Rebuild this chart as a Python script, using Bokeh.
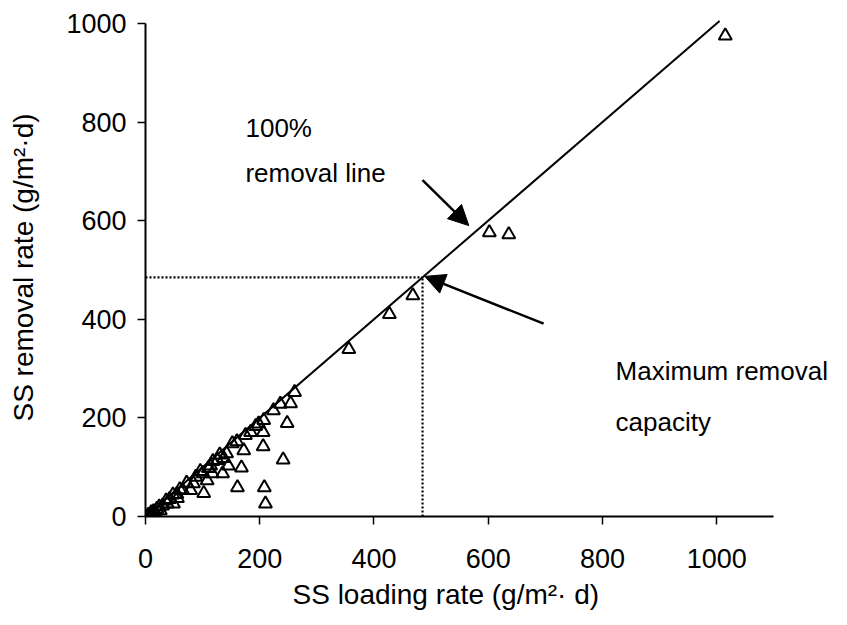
from bokeh.plotting import figure
from bokeh.models import Range1d, Arrow, NormalHead, Label, ColumnDataSource, Title
from bokeh.embed import file_html
from bokeh.resources import INLINE

# SS loading rate vs SS removal rate, g/m2.d
loading = [1015, 602, 636, 468, 427, 356,
           261, 254, 248, 241, 224, 207, 206, 206, 208, 210,
           184, 172, 168, 161, 152, 145, 137, 135, 126, 114,
           117, 100, 108, 102, 84, 79, 65, 56, 49, 38, 26, 18, 9,
           236, 193, 160, 130, 118, 96, 88, 72, 60, 48, 36, 24, 14, 5,
           10, 20, 30, 42, 55, 198, 175, 142, 110]
removal = [975, 576, 572, 448, 410, 339,
           252, 229, 189, 115, 215, 195, 171, 142, 59, 26,
           171, 134, 99, 59, 148, 103, 118, 87, 114, 103,
           87, 87, 73, 47, 67, 53, 53, 37, 26, 26, 12, 6, 2,
           228, 183, 152, 125, 112, 92, 80, 68, 55, 44, 32, 20, 10, 3,
           8, 15, 22, 35, 45, 188, 165, 128, 98]

# 100% removal reference line and the maximum removal capacity point
ref_x = [0, 1005]
ref_y = [0, 1005]
max_capacity = 485

x_ticks = [0, 200, 400, 600, 800, 1000]
y_ticks = [0, 200, 400, 600, 800, 1000]
x_axis_span = (0, 1100)
y_axis_span = (0, 1000)

# annotation arrows: (x_start, y_start, x_end, y_end)
arrow_line = (485, 682, 566, 590)
arrow_cap = (697, 391, 489, 487)

x_title = "SS loading rate (g/m\u00b2\u00b7 d)"
y_title = "SS removal rate (g/m\u00b2\u00b7d)"

FONT = "Liberation Sans"

# the frame runs to the right edge so the annotation text is not cut;
# the axes themselves stop at their own spans
p = figure(width=847, height=625, output_backend="svg", toolbar_location=None,
           x_range=Range1d(0, 1229), y_range=Range1d(0, 1010),
           min_border_left=145, min_border_right=0,
           min_border_top=18, min_border_bottom=109)
p.outline_line_color = None
p.xgrid.visible = False
p.ygrid.visible = False
p.background_fill_color = "white"
p.border_fill_color = "white"

for ax in (p.xaxis[0], p.yaxis[0]):
    ax.axis_line_width = 2
    ax.axis_line_color = "black"
    ax.major_tick_line_width = 1.5
    ax.major_tick_line_color = "black"
    ax.major_tick_in = 0
    ax.major_tick_out = 8
    ax.minor_tick_line_color = None
    ax.major_label_text_font = FONT
    ax.major_label_text_font_size = "27px"
    ax.major_label_text_color = "black"

p.xaxis.bounds = x_axis_span
p.yaxis.bounds = y_axis_span
p.xaxis.ticker = x_ticks
p.yaxis.ticker = y_ticks
p.xaxis.major_label_standoff = 24
p.yaxis.major_label_standoff = 11

p.yaxis.axis_label = y_title
p.yaxis.axis_label_text_font = FONT
p.yaxis.axis_label_text_font_size = "28px"
p.yaxis.axis_label_text_font_style = "normal"
p.yaxis.axis_label_text_color = "black"
p.yaxis.axis_label_standoff = 24

# x title sits a little left of the axis centre
p.add_layout(Title(text=x_title, text_font=FONT, text_font_size="28px",
                   text_font_style="normal", text_color="black",
                   align="left", offset=147, standoff=12), "below")

# dotted guides to the maximum removal capacity
p.line([0, max_capacity], [max_capacity, max_capacity], line_color="black",
       line_width=2.2, line_dash="2 2")
p.line([max_capacity, max_capacity], [0, max_capacity], line_color="black",
       line_width=2.2, line_dash="2 2")

# 100% removal line
p.line(ref_x, ref_y, line_color="black", line_width=2)

src = ColumnDataSource(dict(x=loading, y=removal))
p.scatter("x", "y", source=src, marker="triangle", size=13,
          fill_color="white", fill_alpha=0, line_color="black", line_width=2)

for (xs, ys, xe, ye) in (arrow_line, arrow_cap):
    p.add_layout(Arrow(end=NormalHead(size=20, fill_color="black", line_color="black"),
                       x_start=xs, y_start=ys, x_end=xe, y_end=ye,
                       line_color="black", line_width=2.5))

labels = [("100%", 175, 787), ("removal line", 175, 696),
          ("Maximum  removal", 823, 296), ("capacity", 823, 191)]
for txt, lx, ly in labels:
    p.add_layout(Label(x=lx, y=ly, text=txt, text_font=FONT, text_font_size="26px",
                       text_color="black", text_baseline="middle", text_align="left"))

open("out.html", "w").write(file_html(p, INLINE))
